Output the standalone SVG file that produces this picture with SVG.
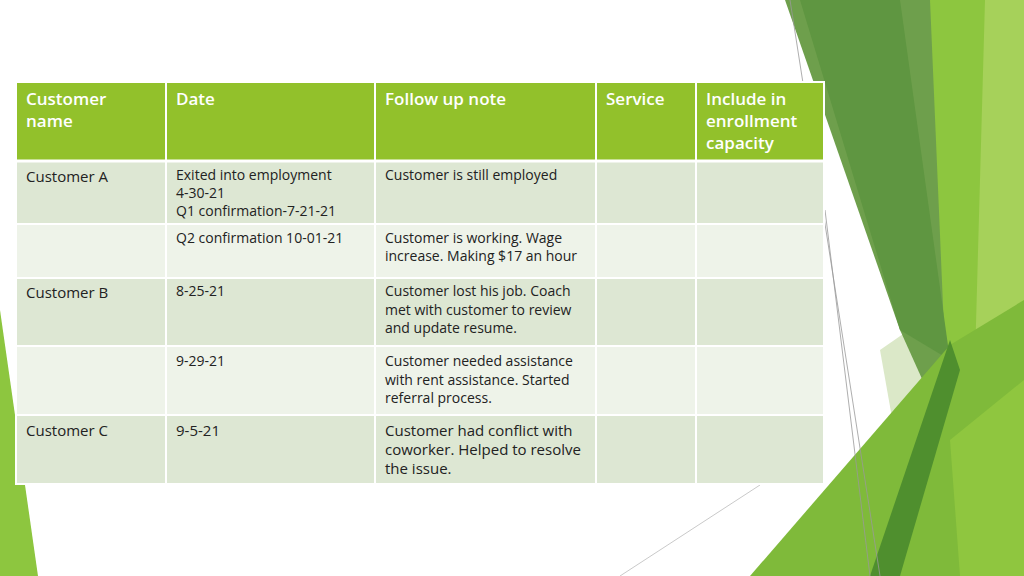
<svg xmlns="http://www.w3.org/2000/svg" width="1024" height="576" viewBox="0 0 1024 576">
<style>
.h{font-family:"Open Sans","DejaVu Sans",sans-serif;font-size:17px;fill:#fff;font-weight:600}
.t{font-family:"Open Sans","DejaVu Sans",sans-serif;font-size:14px;fill:#222}
.b{font-size:15px}
.d{fill:#dde7d3}.l{fill:#eef3e9}
</style>
<rect width="1024" height="576" fill="#fff"/>
<g id="decor">
<polygon points="0,310 38,576 0,576" fill="#8dc63f"/>
<polygon points="880,350 1024,250 1024,576 920,576" fill="#dbe8c8"/>
<polygon points="785,0 1000,0 945,430 900,330" fill="#6e9f4c"/>
<polygon points="930,0 1024,0 1024,420 950,470" fill="#8dc63f"/>
<polygon points="985,0 1024,0 1024,320 975,360" fill="#a6d15a"/>
<polygon points="800,0 900,0 950,360 900,330" fill="#5f9641"/>
<polygon points="750,576 950,345 1024,300 1024,576" fill="#7fba3a"/>
<polygon points="870,576 950,340 960,370 900,576" fill="#4f8f2e"/>
<polygon points="950,440 1024,380 1024,576 960,576" fill="#8fc63f"/>
<line x1="790" y1="0" x2="880" y2="576" stroke="#999" stroke-width="0.8"/>
<line x1="825" y1="210" x2="870" y2="576" stroke="#999" stroke-width="0.8"/>
<line x1="760" y1="485" x2="620" y2="576" stroke="#bbb" stroke-width="0.8"/>
</g>
<g id="table">
<rect x="16" y="82" width="808" height="78" fill="#92c12b"/>
<rect x="16" y="162" width="808" height="61" class="d"/>
<rect x="16" y="225" width="808" height="52" class="l"/>
<rect x="16" y="279" width="808" height="66" class="d"/>
<rect x="16" y="347" width="808" height="67" class="l"/>
<rect x="16" y="416" width="808" height="68" class="d"/>
<g stroke="#fff" stroke-width="2">
<line x1="166" y1="82" x2="166" y2="484"/><line x1="375" y1="82" x2="375" y2="484"/>
<line x1="596" y1="82" x2="596" y2="484"/><line x1="696" y1="82" x2="696" y2="484"/>
<line x1="16" y1="161" x2="824" y2="161" stroke-width="3"/>
</g>
<rect x="16" y="82" width="808" height="402" fill="none" stroke="#fff" stroke-width="2"/>
<text class="h" x="26" y="105">Customer<tspan x="26" dy="22">name</tspan></text>
<text class="h" x="176" y="105">Date</text>
<text class="h" x="385" y="105">Follow up note</text>
<text class="h" x="606" y="105">Service</text>
<text class="h" x="706" y="105">Include in<tspan x="706" dy="22">enrollment</tspan><tspan x="706" dy="22">capacity</tspan></text>
<text class="t b" x="26" y="182">Customer A</text>
<text class="t" x="176" y="180">Exited into employment<tspan x="176" dy="18">4-30-21</tspan><tspan x="176" dy="18">Q1 confirmation-7-21-21</tspan></text>
<text class="t" x="385" y="180">Customer is still employed</text>
<text class="t" x="176" y="243">Q2 confirmation 10-01-21</text>
<text class="t" x="385" y="243">Customer is working.  Wage<tspan x="385" dy="18">increase. Making $17 an hour</tspan></text>
<text class="t b" x="26" y="298">Customer B</text>
<text class="t" x="176" y="296">8-25-21</text>
<text class="t" x="385" y="296">Customer lost his job. Coach<tspan x="385" dy="18.5">met with customer  to review</tspan><tspan x="385" dy="18.5">and update resume.</tspan></text>
<text class="t" x="176" y="366">9-29-21</text>
<text class="t" x="385" y="366"> Customer needed assistance<tspan x="385" dy="18.5">with  rent assistance. Started</tspan><tspan x="385" dy="18.5">referral process.</tspan></text>
<text class="t b" x="26" y="436">Customer C</text>
<text class="t b" x="176" y="436">9-5-21</text>
<text class="t b" x="385" y="436">Customer had conflict with<tspan x="385" dy="19">coworker. Helped to resolve</tspan><tspan x="385" dy="19">the issue.</tspan></text>
</g>
</svg>
